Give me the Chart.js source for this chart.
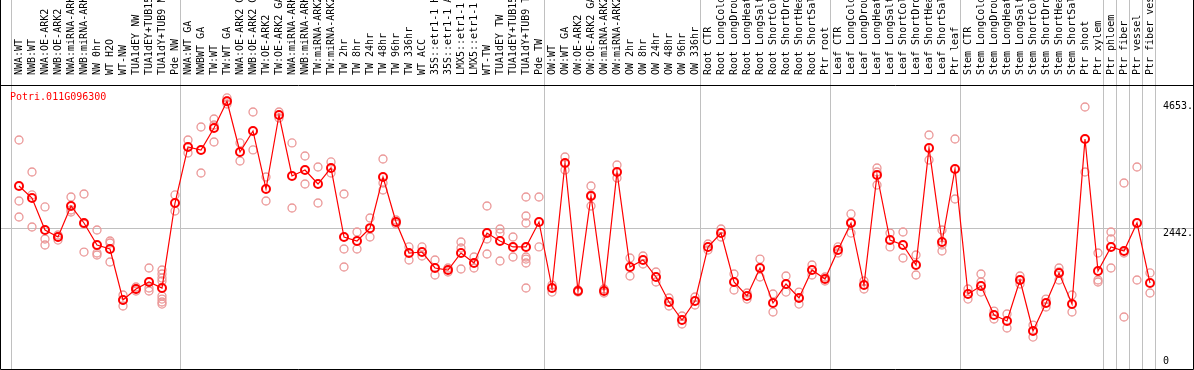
<html>
<head>
  <meta charset="UTF-8">
  <script src="https://cdn.jsdelivr.net/npm/chart.js@4.4.0/dist/chart.umd.min.js"></script>
  <style> body {padding: 0; margin: 0; background: #fff;} </style>
</head>

<body>

<canvas id="myChart" width="1194" height="370"></canvas>

<script>

var geneId = 'Potri.011G096300';

var samples = [
  'NWA:WT', 'NWB:WT', 'NWA:OE-ARK2', 'NWB:OE-ARK2', 'NWA:miRNA-ARK2', 'NWB:miRNA-ARK2',
  'NW 0hr', 'WT H2O', 'WT-NW', 'TUA1dEY NW', 'TUA1dEY+TUB15 NW', 'TUA1dY+TUB9 NW', 'Pde NW',
  'NWA:WT GA', 'NWBWT GA', 'TW:WT', 'TW:WT GA', 'NWA:OE-ARK2 GA', 'NWB:OE-ARK2 GA',
  'TW:OE-ARK2', 'TW:OE-ARK2 GA', 'NWA:miRNA-ARK2 GA', 'NWB:miRNA-ARK2 GA', 'TW:miRNA-ARK2', 'TW:miRNA-ARK2',
  'TW 2hr', 'TW 8hr', 'TW 24hr', 'TW 48hr', 'TW 96hr', 'TW 336hr', 'WT ACC',
  '35S::etr1-1 H2O', '35S::etr1-1 ACC', 'LMX5::etr1-1 H2O', 'LMX5::etr1-1 ACC',
  'WT-TW', 'TUA1dEY TW', 'TUA1dEY+TUB15 TW', 'TUA1dY+TUB9 TW', 'Pde TW',
  'OW:WT', 'OW:WT GA', 'OW:OE-ARK2', 'OW:OE-ARK2 GA', 'OW:miRNA-ARK2', 'OW:miRNA-ARK2',
  'OW 2hr', 'OW 8hr', 'OW 24hr', 'OW 48hr', 'OW 96hr', 'OW 336hr',
  'Root CTR', 'Root LongCold', 'Root LongDrought', 'Root LongHeat', 'Root LongSalt',
  'Root ShortCold', 'Root ShortDrought', 'Root ShortHeat', 'Root ShortSalt', 'Ptr root',
  'Leaf CTR', 'Leaf LongCold', 'Leaf LongDrought', 'Leaf LongHeat', 'Leaf LongSalt',
  'Leaf ShortCold', 'Leaf ShortDrought', 'Leaf ShortHeat', 'Leaf ShortSalt', 'Ptr leaf',
  'Stem CTR', 'Stem LongCold', 'Stem LongDrought', 'Stem LongHeat', 'Stem LongSalt',
  'Stem ShortCold', 'Stem ShortDrought', 'Stem ShortHeat', 'Stem ShortSalt',
  'Ptr shoot', 'Ptr xylem', 'Ptr phloem', 'Ptr fiber', 'Ptr vessel', 'Ptr fiber vessel'
];

// mean expression per sample
var means = [
  3176, 2967, 2410, 2288, 2828, 2532, 2148, 2079, 1190, 1382, 1504, 1399, 2880,
  3856, 3804, 4187, 4653, 3769, 4135, 3124, 4413, 3351, 3455, 3211, 3490,
  2288, 2218, 2442, 3333, 2549, 2009, 2026, 1748, 1713, 2009, 1835, 2357, 2218, 2114, 2114, 2549,
  1399, 3577, 1347, 3002, 1347, 3420, 1765, 1887, 1591, 1155, 842, 1173,
  2114, 2357, 1504, 1260, 1748, 1138, 1469, 1225, 1713, 1556,
  2061, 2532, 1451, 3368, 2235, 2148, 1800, 3839, 2201, 3473,
  1295, 1434, 929, 824, 1539, 650, 1138, 1661, 1120,
  3995, 1695, 2114, 2044, 2532, 1486
];

// replicate values per sample
var reps = [
  [3978, 2915, 2636], [3420, 3020, 2462], [2811, 2253, 2148], [2323, 2288, 2235], [2985, 2758, 2723],
  [3037, 2514, 2026], [2410, 2009, 1974], [2218, 2183, 1852], [1277, 1190, 1086], [1417, 1382, 1347],
  [1748, 1399, 1347], [1713, 1643, 1573, 1521, 1260, 1207, 1155, 1120], [3020, 2741],
  [3978, 3751], [4204, 3403], [4344, 4239, 3943], [4710, 4657, 4605], [3926, 3612], [4466, 3804],
  [3333, 2915], [4466, 4361], [3926, 2793], [3699, 3211], [3507, 2880], [3595, 3403],
  [3037, 2079, 1765], [2375, 2079], [2619, 2288], [3647, 3229, 3107], [2584, 2514], [2114, 1887],
  [2114, 1957], [1887, 1626], [1748, 1678], [2201, 2096, 1730], [1939, 1748], [2828, 2253, 1992],
  [2427, 2357, 1870], [2288, 1939], [2985, 2654, 2532, 1939, 1904, 1835, 1399], [2985, 2114],
  [1451, 1329], [3682, 3455], [1364, 1329], [3176, 3020, 2828], [1382, 1312], [3542, 3316],
  [1922, 1608], [1957, 1817], [1678, 1504], [1225, 1086], [911, 772], [1242, 1103],
  [2166, 2061], [2427, 2288], [1643, 1364], [1312, 1207], [1904, 1591], [1295, 981], [1608, 1329],
  [1329, 1120], [1800, 1626], [1591, 1521],
  [2114, 2009], [2689, 2549, 2357], [1521, 1382], [3490, 3420, 3194], [2357, 2114], [2375, 1922],
  [1974, 1626], [4065, 3629], [2410, 2148, 2044], [3995, 2950],
  [1382, 1207], [1643, 1504, 1329], [998, 859], [946, 702], [1608, 1469], [754, 545], [1207, 1068],
  [1748, 1678, 1539], [1277, 981],
  [4553, 3420], [2009, 1539, 1504], [2375, 2253, 1748], [3229, 2009, 894], [3507, 1539], [1661, 1312]
];

// group separators sit between these sample positions
var groupEdges = [-0.5, 12.5, 40.5, 52.5, 62.5, 72.5, 83.5, 84.5, 85.5, 86.5, 87.5];
var yTicks = [0, 2442, 4653];

var meanPoints = means.map(function (v, i) { return {x: i, y: v}; });
var repPoints = [];
for (var i = 0; i < reps.length; i++) {
  for (var j = 0; j < reps[i].length; j++) {
    repPoints.push({x: i, y: reps[i][j]});
  }
}

var mono = {family: 'DejaVu Sans Mono', size: 10};

function noPad(s) {
  s.paddingLeft = 0; s.paddingRight = 0; s.paddingTop = 0; s.paddingBottom = 0;
}

var frame = {
  id: 'frame',
  beforeDatasetsDraw: function (chart) {
    var ctx = chart.ctx;
    var xs = chart.scales.x;
    ctx.save();
    ctx.strokeStyle = '#c0c0c0';
    ctx.lineWidth = 1;
    groupEdges.forEach(function (v) {
      var px = Math.round(xs.getPixelForValue(v)) - 1.5;
      ctx.beginPath();
      ctx.moveTo(px, 0);
      ctx.lineTo(px, chart.chartArea.bottom);
      ctx.stroke();
    });
    ctx.restore();
  },
  afterDraw: function (chart) {
    var ctx = chart.ctx;
    var a = chart.chartArea;
    ctx.save();
    ctx.strokeStyle = '#000';
    ctx.lineWidth = 1;
    ctx.beginPath();
    ctx.moveTo(0.5, 0); ctx.lineTo(0.5, a.bottom + 0.5);
    ctx.lineTo(1193.5, a.bottom + 0.5); ctx.lineTo(1193.5, 0);
    ctx.moveTo(0, a.top + 0.5); ctx.lineTo(1194, a.top + 0.5);
    ctx.stroke();
    ctx.fillStyle = '#ff0000';
    ctx.font = '10px "DejaVu Sans Mono"';
    ctx.textBaseline = 'middle';
    ctx.fillText(geneId, 10, a.top + 12);
    ctx.restore();
  }
};

var ctx = document.getElementById('myChart').getContext('2d');
var myChart = new Chart(ctx, {
  data: {
    datasets: [{
      type: 'line',
      label: 'mean',
      data: meanPoints,
      order: 0,
      borderColor: '#ff0000',
      borderWidth: 1.2,
      tension: 0,
      pointRadius: 4,
      pointBorderWidth: 2,
      pointBorderColor: '#ff0000',
      pointBackgroundColor: 'rgba(0,0,0,0)'
    }, {
      type: 'scatter',
      label: 'replicates',
      data: repPoints,
      order: 1,
      pointRadius: 4,
      borderWidth: 1.3,
      borderColor: '#eb9898',
      backgroundColor: 'rgba(0,0,0,0)'
    }]
  },
  options: {
    responsive: false,
    animation: false,
    layout: {autoPadding: false, padding: {left: 1, right: 1, top: 0, bottom: 1}},
    plugins: {legend: {display: false}, tooltip: {enabled: false}},
    scales: {
      x: {
        type: 'linear',
        position: 'top',
        min: -18 / 13,
        max: 1174 / 13,
        afterBuildTicks: function (s) {
          s.ticks = samples.map(function (_, i) { return {value: i}; });
        },
        afterFit: function (s) { s.height = 85; noPad(s); },
        grid: {display: false},
        border: {display: false},
        ticks: {
          autoSkip: false,
          minRotation: 90,
          maxRotation: 90,
          padding: 2,
          labelOffset: 12,
          color: '#000',
          font: mono,
          callback: function (v) { return samples[v]; }
        }
      },
      y: {
        type: 'linear',
        position: 'right',
        min: -12,
        max: 4936,
        afterBuildTicks: function (s) {
          s.ticks = yTicks.map(function (v) { return {value: v}; });
        },
        afterFit: function (s) { s.width = 0; noPad(s); },
        border: {display: false},
        grid: {
          drawTicks: false,
          color: function (c) { return c.tick && c.tick.value === 2442 ? '#c0c0c0' : 'rgba(0,0,0,0)'; }
        },
        ticks: {
          mirror: true,
          crossAlign: 'far',
          padding: 0,
          labelOffset: 5,
          color: '#000',
          font: mono,
          callback: function (v) { return v === 0 ? ['0', '', ''] : v + '.'; }
        }
      }
    }
  },
  plugins: [frame]
});

</script>
</body>
</html>
